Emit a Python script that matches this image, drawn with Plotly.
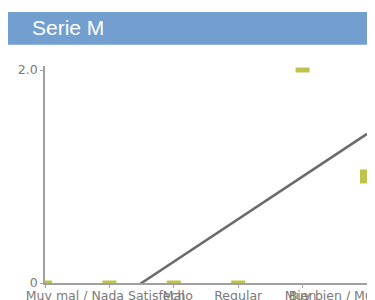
import numpy as np
import plotly.graph_objects as go

categories = ["", "Muy mal / Nada Satisfecho", "Mal", "Regular", "Bien", "Muy bien / Muy Satisfecho"]
values = [0, 0, 0, 0, 2, 1]
y_tick_vals = [0, 2]
y_tick_text = ["0", "2.0"]
title_text = "Serie M"

x_idx = list(range(len(categories)))

# linear trend over the labelled categories
fx = np.array(x_idx[1:], dtype=float)
fy = np.array(values[1:], dtype=float)
slope, intercept = np.polyfit(fx, fy, 1)
trend_x = [0, len(categories) - 1]
trend_y = [intercept + slope * v for v in trend_x]

fig = go.Figure()
fig.add_trace(go.Scatter(
    x=trend_x, y=trend_y, mode="lines",
    line=dict(color="#6b6b6b", width=2.5),
    hoverinfo="skip", showlegend=False,
))
symbols = ["line-ew"] * (len(values) - 1) + ["square"]
sizes = [10] * (len(values) - 1) + [9]
fig.add_trace(go.Scatter(
    x=x_idx, y=values, mode="markers",
    marker=dict(symbol=symbols, size=sizes, color="#a4aa00",
                line=dict(color="#a4aa00", width=5)),
    cliponaxis=True, showlegend=False,
))

# page body has an 8px offset; work in figure pixel coordinates
OFF = 8
FW, FH = 375, 300
L = 45 - OFF
Rpx = 366.7 - OFF
Tpx = 66 - OFF
Bpx = 283 - OFF
W = Rpx - L
H = Bpx - Tpx

def px_x(p):
    return (p - OFF - L) / W

def px_y(p):
    return (Bpx - (p - OFF)) / H

fig.update_layout(
    width=FW, height=FH,
    margin=dict(l=L, r=FW - Rpx, t=Tpx, b=FH - Bpx, autoexpand=False),
    paper_bgcolor="white", plot_bgcolor="white",
    font=dict(family="DejaVu Sans", size=12.5, color="#7a7a7a"),
    shapes=[dict(type="rect", xref="paper", yref="paper",
                 x0=px_x(7), x1=px_x(375), y0=px_y(44.7), y1=px_y(12),
                 fillcolor="#729fcf", line=dict(width=0), layer="below")],
    annotations=[dict(text=title_text, xref="paper", yref="paper",
                      x=px_x(30), y=px_y(27), xanchor="left", yanchor="middle",
                      showarrow=False,
                      font=dict(family="Liberation Sans", size=21, color="white"))],
)
fig.update_xaxes(
    range=[0, len(categories) - 1], tickvals=x_idx, ticktext=categories,
    showgrid=False, zeroline=False, showline=True, linecolor="#a0a0a0", linewidth=1.5,
    ticks="outside", ticklen=3, tickcolor="#a0a0a0", tickangle=0,
    automargin=False, ticklabeloverflow="allow", ticklabelstandoff=-3,
)
fig.update_yaxes(
    range=[0, 2 * 217 / 213], tickvals=y_tick_vals, ticktext=y_tick_text,
    showgrid=False, zeroline=False, showline=True, linecolor="#a0a0a0", linewidth=1.5,
    ticks="outside", ticklen=3, tickcolor="#a0a0a0",
    automargin=False, ticklabeloverflow="allow",
)
fig.write_html("out.html")
